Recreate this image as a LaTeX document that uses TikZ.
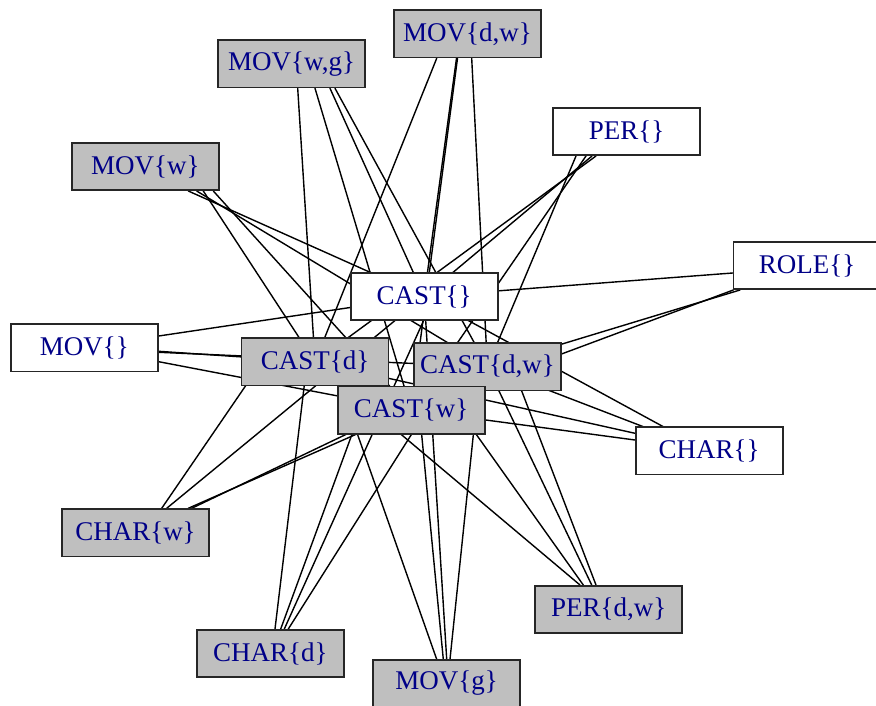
\documentclass[tikz,border=0pt]{standalone}
\usepackage{fontspec}
\setmainfont{Liberation Serif}
\definecolor{labelblue}{RGB}{0,0,135}
\definecolor{nodegray}{RGB}{191,191,191}
\pgfdeclarelayer{edges}
\pgfsetlayers{edges,main}
% connector from a point given relative to one node's centre to a point given relative to another's
\newcommand\lnk[4]{\draw[edge] ([shift={(#2)}]#1.center) -- ([shift={(#4)}]#3.center);}
\begin{document}
\begin{tikzpicture}[x=1pt,y=-1pt,
  box/.style={draw=black!85, line width=1.7pt, minimum width=147pt, minimum height=47.3pt,
    inner sep=0pt, text=labelblue, font=\fontsize{27}{30}\selectfont, fill=white},
  shaded/.style={box, fill=nodegray},
  edge/.style={line width=1.4pt, line cap=round}]
\useasboundingbox (0,0) rectangle (876,706);

% relation nodes
\node[shaded] (mdw)  at (467.5,33.8)  {MOV\{d,w\}};
\node[shaded] (mwg)  at (291.7,63.8)  {MOV\{w,g\}};
\node[box]    (per)  at (626.5,131.7) {PER\{\}};
\node[shaded] (mw)   at (145.4,166.5) {MOV\{w\}};
\node[box]    (role) at (807,265.5)   {ROLE\{\}};
\node[box]    (mov)  at (84.4,347.7)  {MOV\{\}};
\node[box]    (char) at (709.2,450.9) {CHAR\{\}};
\node[shaded] (chw)  at (135.5,532.8) {CHAR\{w\}};
\node[shaded] (pdw)  at (608.8,609.5) {PER\{d,w\}};
\node[shaded] (chd)  at (270.4,653.5) {CHAR\{d\}};
\node[shaded] (mg)   at (446.7,683.4) {MOV\{g\}};
% the CAST cluster, CAST{w} on top
\node[box]    (cast) at (424.2,296.5) {CAST\{\}};
\node[shaded] (cd)   at (315,361.9)   {CAST\{d\}};
\node[shaded] (cdw)  at (487.4,366.7) {CAST\{d,w\}};
\node[shaded] (cw)   at (411.2,410)   {CAST\{w\}};

\begin{pgfonlayer}{edges}
% MOV{d,w}
\lnk{mdw}{-30.8,24.5}{cd}{0,0}
\lnk{mdw}{-11,24.5}{cast}{0,0}
\lnk{mdw}{-10,24.5}{cw}{0,0}
\lnk{mdw}{4.2,24.5}{cdw}{0,0}
% MOV{w,g}
\lnk{mwg}{6,24.5}{cd}{0,0}
\lnk{mwg}{23.3,24.5}{cw}{0,0}
\lnk{mwg}{38.3,24.5}{cast}{0,0}
\lnk{mwg}{43.3,24.5}{cdw}{0,0}
% MOV{w}
\lnk{mw}{42.9,24.5}{cast}{0,0}
\lnk{mw}{51.3,24.5}{cdw}{0,0}
\lnk{mw}{57.9,24.5}{cd}{0,0}
\lnk{mw}{67.9,24.5}{cw}{0,0}
% MOV{}
\lnk{mov}{74.3,-11.7}{cast}{0,0}
\lnk{mov}{74.3,3.6}{cd}{0,0}
\lnk{mov}{74.3,4.6}{cdw}{0,0}
\lnk{mov}{74.3,14}{cw}{0,0}
% PER{}
\lnk{per}{-50.5,24.3}{cdw}{0,0}
\lnk{per}{-40.5,24.3}{cw}{0,0}
\lnk{per}{-34.5,24.3}{cast}{0,0}
\lnk{per}{-30.5,24.3}{cd}{0,0}
% ROLE{}
\lnk{role}{-74.3,7.5}{cast}{0,0}
\lnk{role}{-67,24.5}{cdw}{0,0}
\lnk{role}{-73.7,24.5}{cw}{0,0}
% CHAR{}
\lnk{char}{-45.9,-24.2}{cast}{0,0}
\lnk{char}{-65.9,-24.2}{cdw}{0,0}
\lnk{char}{-74.2,-17.6}{cd}{0,0}
\lnk{char}{-74.2,-10.9}{cw}{0,0}
% CHAR{w}
\lnk{chw}{26.2,-24.5}{cd}{-53.1,0.1}
\lnk{chw}{31.2,-24.5}{cast}{0,0}
\lnk{chw}{52.8,-24.5}{cw}{0,0}
\lnk{chw}{56.2,-24.5}{cdw}{0,0}
% CHAR{d}
\lnk{chd}{4.6,-24.5}{cd}{-7.8,-0.9}
\lnk{chd}{10.3,-24.5}{cd}{63.8,-0.9}
\lnk{chd}{13.9,-24.5}{cast}{10.3,0}
\lnk{chd}{17.9,-24.5}{cw}{15.7,0}
% PER{d,w}
\lnk{pdw}{-28.8,-24.5}{cd}{0,0}
\lnk{pdw}{-25.5,-24.5}{cw}{47.7,0}
\lnk{pdw}{-17.1,-24.5}{cdw}{0,0}
\lnk{pdw}{-12.8,-24.5}{cdw}{25,0}
% MOV{g}
\lnk{mg}{-10,-24.1}{cd}{17,0}
\lnk{mg}{-3.4,-24.1}{cw}{8.1,0}
\lnk{mg}{0,-24.1}{cast}{0,0}
\lnk{mg}{3.3,-24.1}{cdw}{-7,0}
\end{pgfonlayer}
\end{tikzpicture}
\end{document}
